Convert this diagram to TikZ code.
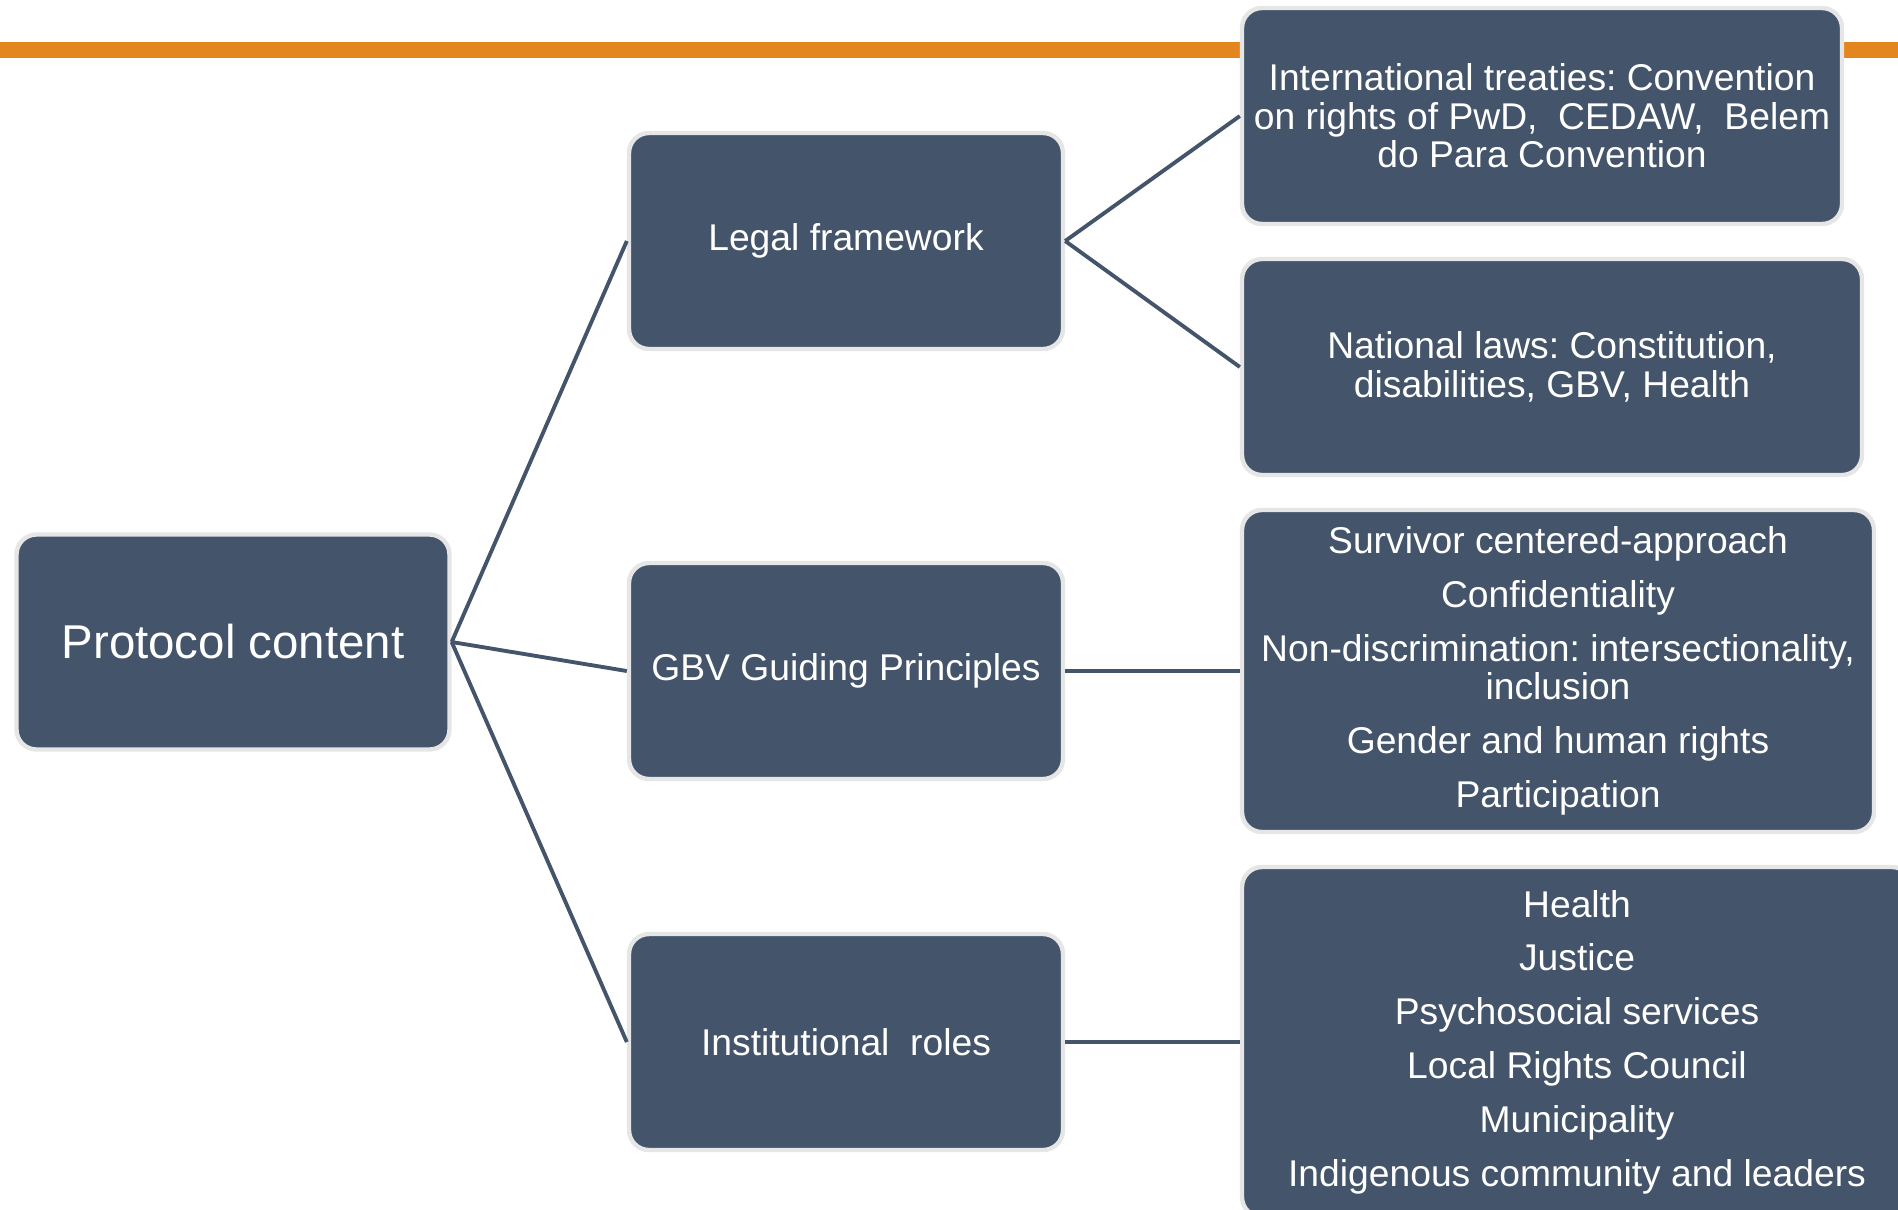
\documentclass[tikz,border=0pt]{standalone}
\usepackage{fontspec}
\setmainfont{Liberation Sans}
\frenchspacing
\definecolor{slate}{HTML}{44546A}
\definecolor{rim}{HTML}{E6E6E6}
\definecolor{barorange}{HTML}{E3861D}
\begin{document}
\begin{tikzpicture}[
		box/.style={rectangle, rounded corners=0.4cm, fill=slate, draw=rim, line width=2.5pt, text=white, align=center, inner sep=0pt, font=\fontsize{21.2}{22}\selectfont},
		link/.style={slate, line width=2.2pt}]
				\useasboundingbox (0,0) rectangle (37.96,-24.18);
				\fill[barorange] (0,-0.84) rectangle (37.96,-1.16);
				\node[box, minimum width=8.66cm, minimum height=4.3cm, font=\fontsize{27}{30}\selectfont] (proto) at (4.66,-12.84) {Protocol content};
				\node[box, minimum width=8.68cm, minimum height=4.32cm] (legal) at (16.92,-4.82) {Legal framework};
				\node[box, minimum width=8.68cm, minimum height=4.32cm] (guide) at (16.92,-13.42) {GBV Guiding Principles};
				\node[box, minimum width=8.68cm, minimum height=4.32cm] (roles) at (16.92,-20.84) {Institutional~~roles};
				\node[box, minimum width=12cm, minimum height=4.32cm] (intl) at (30.84,-2.32) {International treaties: Convention\\on rights of PwD,~~CEDAW,~~Belem\\do Para Convention};
				\node[box, minimum width=12.4cm, minimum height=4.32cm] (natl) at (31.04,-7.34) {National laws: Constitution,\\disabilities, GBV, Health};
				\node[box, minimum width=12.64cm, minimum height=6.44cm] (surv) at (31.16,-13.42) {Survivor centered-approach\\[8.6pt]Confidentiality\\[8.6pt]Non-discrimination: intersectionality,\\inclusion\\[8.6pt]Gender and human rights\\[8.6pt]Participation};
				\node[box, minimum width=13.4cm, minimum height=7cm] (serv) at (31.54,-20.84) {Health\\[8.6pt]Justice\\[8.6pt]Psychosocial services\\[8.6pt]Local Rights Council\\[8.6pt]Municipality\\[8.6pt]Indigenous community and leaders};
				\draw[link] (proto.east)--(legal.west);
				\draw[link] (proto.east)--(guide.west);
				\draw[link] (proto.east)--(roles.west);
				\draw[link] (legal.east)--(intl.west);
				\draw[link] (legal.east)--(natl.west);
				\draw[link] (guide.east)--(surv.west);
				\draw[link] (roles.east)--(serv.west);
			\end{tikzpicture}
\end{document}
